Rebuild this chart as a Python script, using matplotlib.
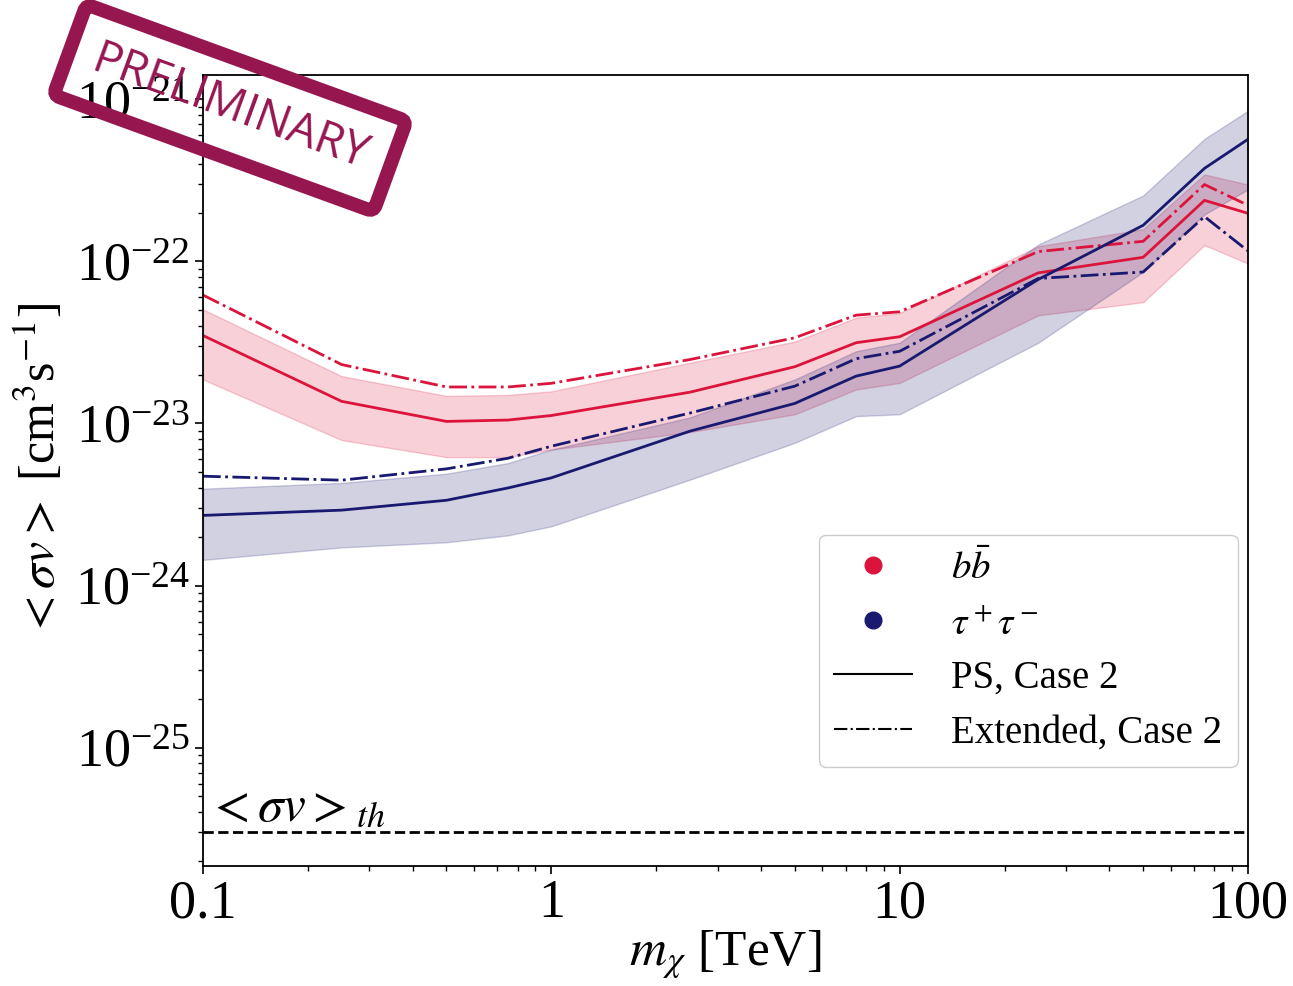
import numpy as np
from matplotlib import pyplot as plt
from matplotlib.lines import Line2D

plt.rcParams['font.family'] = ['Liberation Serif', 'DejaVu Serif']
plt.rcParams['mathtext.fontset'] = 'stix'

# masses [TeV]
m = [0.1, 0.25, 0.5, 0.75, 1, 2.5, 5, 7.5, 10, 25, 50, 75, 100]

# b bbar
bb_ps = [3.49e-23, 1.37e-23, 1.03e-23, 1.05e-23, 1.12e-23, 1.56e-23, 2.24e-23,
         3.15e-23, 3.43e-23, 8.5e-23, 1.06e-22, 2.38e-22, 1.98e-22]
bb_ext = [6.2e-23, 2.31e-23, 1.68e-23, 1.68e-23, 1.77e-23, 2.48e-23, 3.38e-23,
          4.66e-23, 4.89e-23, 1.15e-22, 1.33e-22, 2.98e-22, 2.22e-22]
bb_hi = [5.06e-23, 1.96e-23, 1.48e-23, 1.5e-23, 1.58e-23, 2.37e-23, 3.2e-23,
         4.5e-23, 4.8e-23, 1.24e-22, 1.58e-22, 3.44e-22, 2.98e-22]
bb_lo = [1.87e-23, 7.9e-24, 6.2e-24, 6.2e-24, 6.9e-24, 8.85e-24, 1.14e-23,
         1.62e-23, 1.78e-23, 4.65e-23, 5.6e-23, 1.26e-22, 9.7e-23]

# tau+ tau-
tt_ps = [2.71e-24, 2.92e-24, 3.36e-24, 4.0e-24, 4.62e-24, 8.97e-24, 1.33e-23,
         1.96e-23, 2.26e-23, 7.74e-23, 1.67e-22, 3.75e-22, 5.67e-22]
tt_ext = [4.73e-24, 4.47e-24, 5.25e-24, 6.1e-24, 7.24e-24, 1.16e-23, 1.70e-23,
          2.51e-23, 2.79e-23, 7.85e-23, 8.6e-23, 1.89e-22, 1.16e-22]
tt_hi = [3.96e-24, 4.3e-24, 4.9e-24, 5.7e-24, 6.9e-24, 1.09e-23, 1.87e-23,
         2.79e-23, 3.15e-23, 1.27e-22, 2.55e-22, 5.7e-22, 8.5e-22]
tt_lo = [1.44e-24, 1.72e-24, 1.85e-24, 2.04e-24, 2.32e-24, 4.5e-24, 7.6e-24,
         1.11e-23, 1.14e-23, 3.15e-23, 8.6e-23, 1.95e-22, 2.78e-22]

sv_th = 3e-26

red = '#dc143c'
blue = '#191970'

fig = plt.figure(figsize=(12.93, 9.86), dpi=100)
ax = fig.add_axes([203 / 1293, 1 - 866 / 986, 1045 / 1293, 791 / 986])

ax.fill_between(m, bb_lo, bb_hi, color=red, alpha=0.2, lw=1)
ax.fill_between(m, tt_lo, tt_hi, color=blue, alpha=0.2, lw=1)
ax.plot(m, bb_ps, color=red, lw=2)
ax.plot(m, bb_ext, color=red, lw=2, ls='-.')
ax.plot(m, tt_ps, color=blue, lw=2)
ax.plot(m, tt_ext, color=blue, lw=2, ls='-.')
ax.axhline(sv_th, color='black', lw=2, ls='--')
ax.text(0.103, 3.5e-26, r'$<\sigma v>_{th}$', fontsize=37)

ax.set_xscale('log')
ax.set_yscale('log')
ax.set_xlim(0.1, 100)
ax.set_ylim(10 ** -25.73, 10 ** -20.85)
ax.set_xticks([0.1, 1, 10, 100])
ax.set_xticklabels(['0.1', '1', '10', '100'])
ax.tick_params(labelsize=39, width=1.2, length=6)
ax.tick_params(axis='x', pad=3)
ax.tick_params(which='minor', width=1, length=3.5)
for s in ax.spines.values():
    s.set_linewidth(1.3)
ax.set_xlabel(r'$m_\chi$ [TeV]', fontsize=37, labelpad=0)
ax.set_ylabel(r'$<\sigma v>$ [cm$^3$s$^{-1}$]', fontsize=36, labelpad=6)

handles = [
    Line2D([], [], ls='none', marker='o', ms=12, color=red),
    Line2D([], [], ls='none', marker='o', ms=12, color=blue),
    Line2D([], [], color='black', lw=1.5),
    Line2D([], [], color='black', lw=1.5, ls='-.'),
]
labels = [r'$b\bar{b}$', r'$\tau^+\tau^-$', 'PS, Case 2', 'Extended, Case 2']
ax.legend(handles, labels, loc='lower right', bbox_to_anchor=(0.99, 0.125),
          borderaxespad=0, fontsize=28, handlelength=2.0, handletextpad=1.0,
          labelspacing=0.45, borderpad=0.4, framealpha=1, edgecolor='#cccccc')

stamp = '#961650'
fig.text(230 / 1293, 1 - 108 / 986, 'PRELIMINARY', rotation=-20,
         family='Open Sans', fontsize=33, color=stamp, ha='center', va='center',
         zorder=10,
         bbox=dict(boxstyle='round,pad=0.55,rounding_size=0.15', fc='none',
                   ec=stamp, lw=10))

fig.savefig('out.png', dpi=100)
